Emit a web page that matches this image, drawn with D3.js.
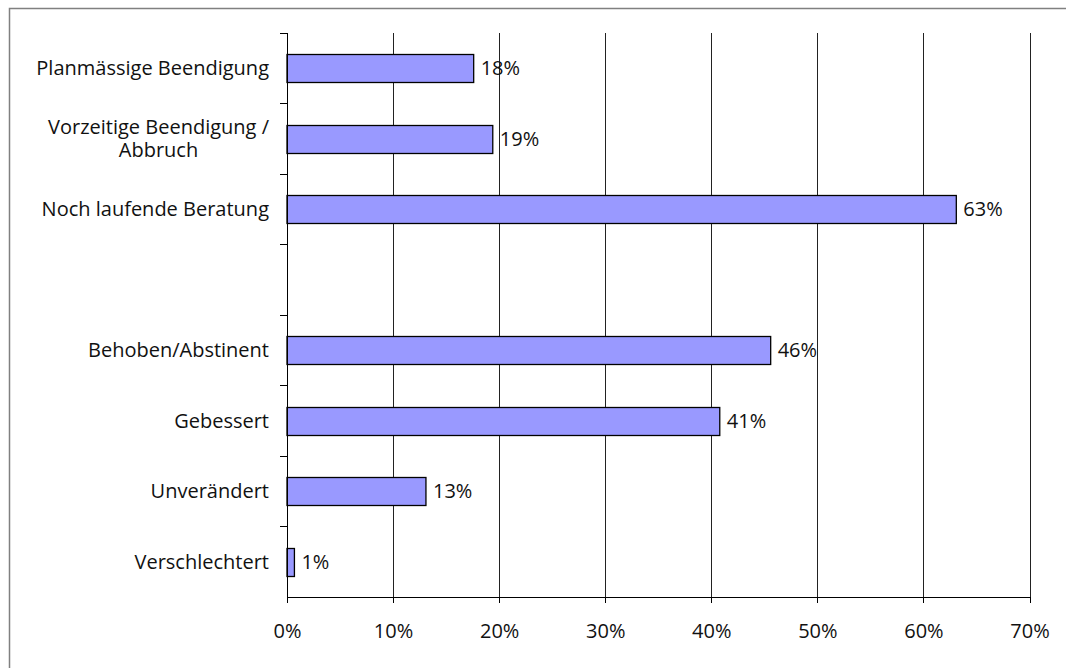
<!DOCTYPE html>
<html>
<head>
<meta charset="utf-8">
<script src="https://cdn.jsdelivr.net/npm/d3@7"></script>
<style>
  body { margin: 0; background: #fff; }
  text { font-family: "Open Sans", sans-serif; fill: #111; }
</style>
</head>
<body>
<div id="barChart"></div>
<script>
// row labels (top to bottom), empty list = spacer row
var categories = [
  ["Planmässige Beendigung"],
  ["Vorzeitige Beendigung /", "Abbruch"],
  ["Noch laufende Beratung"],
  [],
  ["Behoben/Abstinent"],
  ["Gebessert"],
  ["Unverändert"],
  ["Verschlechtert"]
];
var values = [0.176, 0.194, 0.631, 0.456, 0.408, 0.131, 0.007];
var valueRows = [0, 1, 2, 4, 5, 6, 7];   // row index for each value
var xTicks = [0, 0.1, 0.2, 0.3, 0.4, 0.5, 0.6, 0.7];

var width = 1066, height = 668;
var padding = { top: 33, right: 35, bottom: 71, left: 287 };
var fontSize = 20;

var svg = d3.select("#barChart").append("svg")
  .attr("width", width)
  .attr("height", height);

// outer frame (cut off at right and bottom like the source)
svg.append("path")
  .attr("d", "M9.5," + height + "V8.5H" + width)
  .attr("fill", "none")
  .attr("stroke", "#808080")
  .attr("stroke-width", 1.5);

var xscale = d3.scaleLinear()
  .domain([0, 0.7])
  .range([padding.left, width - padding.right - 1.5]);

var yscale = d3.scaleBand()
  .domain(d3.range(categories.length))
  .range([padding.top, height - padding.bottom])
  .paddingInner(0.6)
  .paddingOuter(0.3);

var bottom = height - padding.bottom;

// vertical grid lines
svg.append("g")
  .attr("transform", "translate(0," + bottom + ")")
  .call(d3.axisBottom(xscale)
    .tickValues(xTicks.slice(1))
    .tickSize(-(bottom - padding.top))
    .tickFormat(""))
  .call(function (g) { g.select(".domain").remove(); })
  .selectAll("line")
  .attr("stroke", "#222")
  .attr("shape-rendering", "crispEdges");

// bars
var barData = values.map(function (v, i) { return { row: valueRows[i], value: v }; });

svg.selectAll(".bar").data(barData).enter().append("rect")
  .attr("class", "bar")
  .attr("x", xscale(0))
  .attr("y", function (d) { return Math.round(yscale(d.row)) + 0.5; })
  .attr("width", function (d) { return xscale(d.value) - xscale(0); })
  .attr("height", Math.round(yscale.bandwidth()))
  .attr("fill", "#9999ff")
  .attr("stroke", "#000")
  .attr("stroke-width", 1.3);

// value labels
svg.selectAll(".valueLabel").data(barData).enter().append("text")
  .attr("class", "valueLabel")
  .attr("x", function (d) { return xscale(d.value) + 7; })
  .attr("y", function (d) { return yscale(d.row) + yscale.bandwidth() / 2; })
  .attr("dy", "0.35em")
  .style("font-size", fontSize + "px")
  .text(function (d) { return d3.format(".0%")(d.value); });

// x axis
var xAxis = svg.append("g")
  .attr("transform", "translate(0," + bottom + ")")
  .call(d3.axisBottom(xscale)
    .tickValues(xTicks)
    .tickSize(6)
    .tickSizeOuter(0)
    .tickPadding(21)
    .tickFormat(d3.format(".0%")));
xAxis.selectAll("text")
  .style("font-size", fontSize + "px")
  .style("font-family", "'Open Sans', sans-serif")
  .attr("fill", "#111");
xAxis.selectAll("line, path").attr("stroke", "#000").attr("shape-rendering", "crispEdges");

// y axis line with ticks at row boundaries
var step = yscale.step();
var y0 = padding.top;
svg.append("line")
  .attr("x1", xscale(0)).attr("x2", xscale(0))
  .attr("y1", y0).attr("y2", bottom)
  .attr("stroke", "#000")
  .attr("shape-rendering", "crispEdges");
svg.selectAll(".yTick").data(d3.range(categories.length)).enter().append("line")
  .attr("class", "yTick")
  .attr("x1", xscale(0) - 7).attr("x2", xscale(0))
  .attr("y1", function (i) { return y0 + i * step; })
  .attr("y2", function (i) { return y0 + i * step; })
  .attr("stroke", "#000")
  .attr("shape-rendering", "crispEdges");

// category labels
var lineHeight = 23;
var labels = svg.selectAll(".catLabel").data(categories).enter().append("g")
  .attr("class", "catLabel")
  .attr("transform", function (d, i) {
    return "translate(" + (xscale(0) - 18) + "," + (yscale(i) + yscale.bandwidth() / 2) + ")";
  });

labels.each(function (lines) {
  var g = d3.select(this);
  var n = lines.length;
  var texts = g.selectAll("text").data(lines).enter().append("text")
    .attr("y", function (l, j) { return (j - (n - 1) / 2) * lineHeight; })
    .attr("dy", "0.35em")
    .attr("text-anchor", "end")
    .style("font-size", fontSize + "px")
    .text(function (l) { return l; });
  if (n > 1) {
    // centre the wrapped lines on the widest one
    var maxW = d3.max(texts.nodes(), function (t) { return t.getComputedTextLength(); });
    texts.attr("text-anchor", "middle").attr("x", -maxW / 2);
  }
});
</script>
</body>
</html>
